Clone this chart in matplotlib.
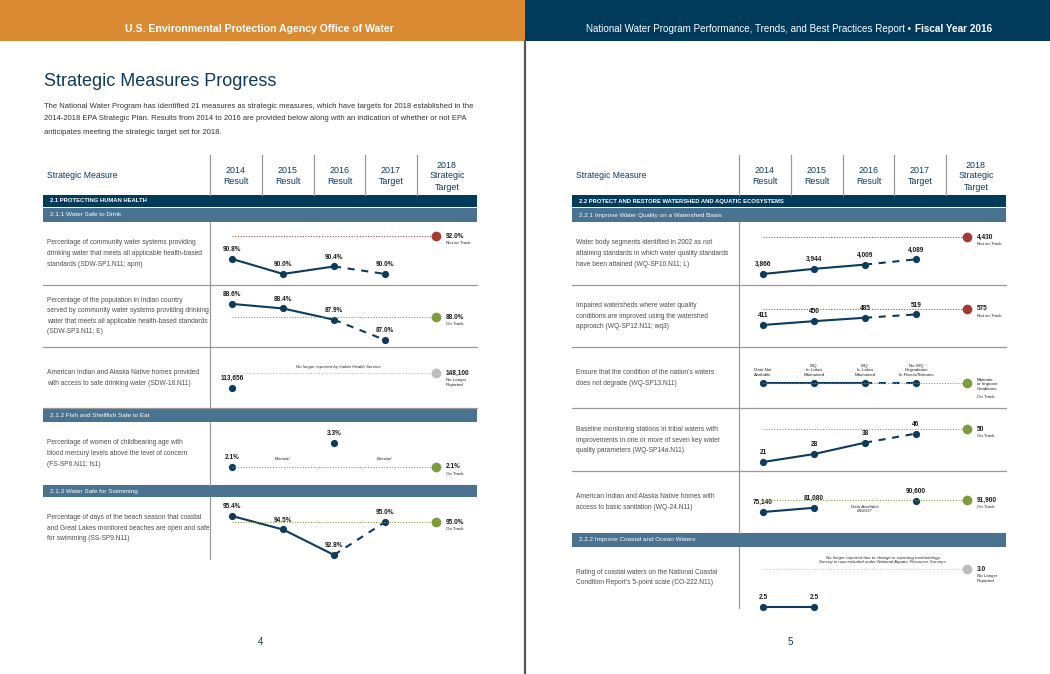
import matplotlib
matplotlib.use("Agg")
import matplotlib.pyplot as plt
from matplotlib.patches import Rectangle

W, H = 1050, 674

ORANGE = "#d98a33"
NAVY = "#003b5c"
STEEL = "#4a7291"
DOT = "#0c3b5d"
RED = "#a33b34"
GREEN = "#7e9b3f"
GREY = "#bdbdbd"
RULE = "#9a9a9a"
TEXT = "#4d4d4d"

COLUMN_HEADS = ["2014\nResult", "2015\nResult", "2016\nResult", "2017\nTarget", "2018\nStrategic\nTarget"]

LEFT_HEADER = "U.S. Environmental Protection Agency Office of Water"
RIGHT_HEADER = "National Water Program Performance, Trends, and Best Practices Report \u2022"
RIGHT_HEADER_BOLD = "Fiscal Year 2016"
TITLE = "Strategic Measures Progress"
INTRO = ("The National Water Program has identified 21 measures as strategic measures, which have targets for 2018 established in the\n"
         "2014-2018 EPA Strategic Plan. Results from 2014 to 2016 are provided below along with an indication of whether or not EPA\n"
         "anticipates meeting the strategic target set for 2018.")

# ---- left page: 2.1 protecting human health ----
SDW_SP1_DESC = ("Percentage of community water systems providing\n"
                "drinking water that meets all applicable health-based\n"
                "standards (SDW-SP1.N11; apm)")
SDW_SP1 = [90.8, 90.0, 90.4, 90.0]
SDW_SP1_TARGET = 92.0
SDW_SP1_STATUS = "Not on Track"

SDW_SP3_DESC = ("Percentage of the population in Indian country\n"
                "served by community water systems providing drinking\n"
                "water that meets all applicable health-based standards\n"
                "(SDW-SP3.N11; E)")
SDW_SP3 = [88.6, 88.4, 87.9, 87.0]
SDW_SP3_TARGET = 88.0
SDW_SP3_STATUS = "On Track"

SDW_18_DESC = ("American Indian and Alaska Native homes provided\n"
               "with access to safe drinking water (SDW-18.N11)")
SDW_18 = [113656, None, None, None]
SDW_18_TARGET = 148100
SDW_18_STATUS = "No Longer\nReported"

FS_SP6_DESC = ("Percentage of women of childbearing age with\n"
               "blood mercury levels above the level of concern\n"
               "(FS-SP6.N11; fs1)")
FS_SP6 = [2.1, None, 3.3, None]
FS_SP6_TARGET = 2.1
FS_SP6_STATUS = "On Track"

SS_SP9_DESC = ("Percentage of days of the beach season that coastal\n"
               "and Great Lakes monitored beaches are open and safe\n"
               "for swimming (SS-SP9.N11)")
SS_SP9 = [95.4, 94.5, 92.8, 95.0]
SS_SP9_TARGET = 95.0
SS_SP9_STATUS = "On Track"

# ---- right page: 2.2 watersheds and aquatic ecosystems ----
WQ_SP10_DESC = ("Water body segments identified in 2002 as not\n"
                "attaining standards in which water quality standards\n"
                "have been attained (WQ-SP10.N11; L)")
WQ_SP10 = [3866, 3944, 4009, 4089]
WQ_SP10_TARGET = 4430
WQ_SP10_STATUS = "Not on Track"

WQ_SP12_DESC = ("Impaired watersheds where water quality\n"
                "conditions are improved using the watershed\n"
                "approach (WQ-SP12.N11; wq3)")
WQ_SP12 = [411, 450, 485, 519]
WQ_SP12_TARGET = 575
WQ_SP12_STATUS = "Not on Track"

WQ_SP13_DESC = ("Ensure that the condition of the nation\u2019s waters\n"
                "does not degrade (WQ-SP13.N11)")
WQ_SP13 = [0, 0, 0, 0]  # qualitative measure, all on one level
WQ_SP13_LABELS = ["Data Not\nAvailable", "WQ\nIn Lakes\nMaintained", "WQ\nIn Lakes\nMaintained",
                  "No WQ\nDegradation\nIn Rivers/Streams"]
WQ_SP13_TARGET = 0
WQ_SP13_TARGET_LABEL = "Maintain\nor Improve\nConditions"
WQ_SP13_STATUS = "On Track"

WQ_SP14A_DESC = ("Baseline monitoring stations in tribal waters with\n"
                 "improvements in one or more of seven key water\n"
                 "quality parameters (WQ-SP14a.N11)")
WQ_SP14A = [21, 28, 38, 46]
WQ_SP14A_TARGET = 50
WQ_SP14A_STATUS = "On Track"

WQ_24_DESC = ("American Indian and Alaska Native homes with\n"
              "access to basic sanitation (WQ-24.N11)")
WQ_24 = [75140, 81080, None, 90600]
WQ_24_TARGET = 91900
WQ_24_STATUS = "On Track"

CO_222_DESC = ("Rating of coastal waters on the National Coastal\n"
               "Condition Report\u2019s 5-point scale (CO-222.N11)")
CO_222 = [2.5, 2.5, None, None]
CO_222_TARGET = 3.0
CO_222_STATUS = "No Longer\nReported"

STATUS_COLORS = {"Not on Track": RED, "On Track": GREEN, "No Longer\nReported": GREY}


def pct(v):
    return f"{v:.1f}%"


def count(v):
    return f"{v:,.0f}"


def rating(v):
    return f"{v:.1f}"


def stacked(page, x, yc, text, spacing, **kw):
    # one text per line so the line pitch is exact
    parts = text.split("\n")
    y0 = yc - spacing * (len(parts) - 1) / 2
    for k, part in enumerate(parts):
        page.text(x, y0 + k * spacing, part, va="center", **kw)


def draw_row(fig, page, row):
    top, bottom, pt0 = row["top"], row["bottom"], row["pt0"]
    stacked(page, row["text_x"], (top + bottom) / 2, row["desc"], 10.6,
            fontsize=4.75, color=TEXT, ha="left")

    ax = fig.add_axes([(pt0 - 22) / W, 1 - bottom / H, 267 / W, (bottom - top) / H])
    ax.set_xlim(-22 / 51, 245 / 51)
    ax.set_ylim(*row["ylim"])
    ax.axis("off")

    vals = row["values"]
    for i in range(3):
        if vals[i] is not None and vals[i + 1] is not None:
            ls = "-" if i < 2 else (0, (3.4, 3.2))
            ax.plot([i, i + 1], [vals[i], vals[i + 1]], color=DOT, lw=1.5, ls=ls,
                    solid_capstyle="butt", dash_capstyle="butt", clip_on=False, zorder=2)
    xs = [i for i, v in enumerate(vals) if v is not None]
    ax.plot(xs, [vals[i] for i in xs], "o", ms=5.2, color=DOT, mec="none", clip_on=False, zorder=3)

    color = STATUS_COLORS[row["status"]]
    ax.plot([0, 4], [row["target"]] * 2, ls=(0, (1, 1.6)), lw=0.75, color=color, zorder=4)
    ax.plot([4], [row["target"]], "o", ms=7, color=color, mec="none", zorder=5, clip_on=False)

    labels = row.get("labels") or [row["fmt"](v) if v is not None else "" for v in vals]
    for i in xs:
        if row.get("labels"):
            ax.annotate(labels[i], (i, vals[i]), xytext=(0, 4.5), textcoords="offset points",
                        ha="center", va="bottom", fontsize=3.2, color="#222222", linespacing=1.2)
        else:
            ax.annotate(labels[i], (i, vals[i]), xytext=(0, 4.2), textcoords="offset points",
                        ha="center", va="bottom", fontsize=4.7, fontweight="bold", color="#1a1a1a")

    tlabel = row.get("target_label") or row["fmt"](row["target"])
    small = "target_label" in row
    ax.annotate(tlabel, (4, row["target"]), xytext=(7, -1 if small else 0), textcoords="offset points",
                ha="left", va="center", fontsize=3.2 if small else 4.7,
                fontweight="normal" if small else "bold", color="#1a1a1a", linespacing=1.25)
    ax.annotate(row["status"], (4, row["target"]), xytext=(7, -9 if small else -3.6),
                textcoords="offset points", ha="left", va="top", fontsize=3.2, color="#222222",
                linespacing=1.2)

    for xi, dy, note in row.get("notes", []):
        ax.annotate(note, (xi, row["target"]), xytext=(0, dy), textcoords="offset points",
                    ha="center", va="center", fontsize=3.2, style="italic", color="#222222",
                    linespacing=1.25)


def main() -> None:
    plt.rcParams["font.family"] = ["Liberation Sans", "DejaVu Sans"]
    fig = plt.figure(figsize=(W / 100, H / 100), dpi=100)
    page = fig.add_axes([0, 0, 1, 1])
    page.set_xlim(0, W)
    page.set_ylim(H, 0)
    page.axis("off")

    # page headers
    page.add_patch(Rectangle((0, 0), 525, 41, color=ORANGE, lw=0))
    page.add_patch(Rectangle((525, 0), 525, 41, color=NAVY, lw=0))
    page.text(259, 29, LEFT_HEADER, color="white", fontsize=7.6, fontweight="bold", ha="center", va="center")
    page.text(911, 29, RIGHT_HEADER, color="white", fontsize=7.1, ha="right", va="center")
    page.text(915, 29, RIGHT_HEADER_BOLD, color="white", fontsize=7.2, fontweight="bold", ha="left", va="center")
    page.plot([525, 525], [41, H], color="#555555", lw=1.6)

    page.text(44, 81, TITLE, color="#0e3a5c", fontsize=13, ha="left", va="center")
    stacked(page, 44, 119, INTRO, 13, color="#333333", fontsize=5.5, ha="left")

    # table heads and section bars for both pages
    for x0, x1, text_x, seps, section, sub in [
        (43, 477, 47, [210, 262, 314, 365, 417], "2.1 PROTECTING HUMAN HEALTH", "2.1.1 Water Safe to Drink"),
        (572, 1006, 576, [739, 791, 843, 894, 946], "2.2 PROTECT AND RESTORE WATERSHED AND AQUATIC ECOSYSTEMS",
         "2.2.1 Improve Water Quality on a Watershed Basis"),
    ]:
        page.text(text_x, 176, "Strategic Measure", color="#0e3a5c", fontsize=6.2, ha="left", va="center")
        edges = seps + [x1]
        for k, head in enumerate(COLUMN_HEADS):
            page.plot([seps[k], seps[k]], [155, 195], color=RULE, lw=0.9)
            stacked(page, (edges[k] + edges[k + 1]) / 2, 176, head, 11,
                    color="#0e3a5c", fontsize=6.4, ha="center")
        page.add_patch(Rectangle((x0, 195), x1 - x0, 11.5, color=NAVY, lw=0))
        page.text(x0 + 7, 201, section, color="white", fontsize=4.25, fontweight="bold", ha="left", va="center")
        page.add_patch(Rectangle((x0, 208), x1 - x0, 14, color=STEEL, lw=0))
        page.text(x0 + 7, 215, sub, color="white", fontsize=4.6, ha="left", va="center")

    for y0, y1, title in [(409, 422, "2.1.2 Fish and Shellfish Safe to Eat"),
                          (485, 497, "2.1.3 Water Safe for Swimming")]:
        page.add_patch(Rectangle((43, y0), 434, y1 - y0, color=STEEL, lw=0))
        page.text(50, (y0 + y1) / 2, title, color="white", fontsize=4.6, ha="left", va="center")
    page.add_patch(Rectangle((572, 533), 434, 14, color=STEEL, lw=0))
    page.text(579, 540, "2.2.2 Improve Coastal and Ocean Waters", color="white", fontsize=4.6,
              ha="left", va="center")

    for y in [285, 347, 408]:
        page.plot([43, 477], [y, y], color=RULE, lw=0.9)
    for y in [285, 347, 408, 471]:
        page.plot([572, 1006], [y, y], color=RULE, lw=0.9)
    for y0, y1 in [(222, 408), (422, 485), (497, 559)]:
        page.plot([210, 210], [y0, y1], color=RULE, lw=0.9)
    for y0, y1 in [(222, 533), (547, 608)]:
        page.plot([739, 739], [y0, y1], color=RULE, lw=0.9)

    left = dict(pt0=232, text_x=47)
    right = dict(pt0=763, text_x=576)
    rows = [
        dict(left, top=222, bottom=285, desc=SDW_SP1_DESC, values=SDW_SP1, target=SDW_SP1_TARGET,
             status=SDW_SP1_STATUS, fmt=pct, ylim=(89.41, 92.77)),
        dict(left, top=285, bottom=347, desc=SDW_SP3_DESC, values=SDW_SP3, target=SDW_SP3_TARGET,
             status=SDW_SP3_STATUS, fmt=pct, ylim=(86.69, 89.44)),
        dict(left, top=347, bottom=409, desc=SDW_18_DESC, values=SDW_18, target=SDW_18_TARGET,
             status=SDW_18_STATUS, fmt=count, ylim=(65440, 207800),
             notes=[(2.08, 4.5, "No longer reported by Indian Health Service")]),
        dict(left, top=422, bottom=485, desc=FS_SP6_DESC, values=FS_SP6, target=FS_SP6_TARGET,
             status=FS_SP6_STATUS, fmt=pct, ylim=(1.2, 4.35),
             notes=[(1, 6, "Biennial"), (3, 6, "Biennial")]),
        dict(left, top=497, bottom=559, desc=SS_SP9_DESC, values=SS_SP9, target=SS_SP9_TARGET,
             status=SS_SP9_STATUS, fmt=pct, ylim=(92.53, 96.67)),
        dict(right, top=222, bottom=285, desc=WQ_SP10_DESC, values=WQ_SP10, target=WQ_SP10_TARGET,
             status=WQ_SP10_STATUS, fmt=count, ylim=(3698, 4658)),
        dict(right, top=285, bottom=347, desc=WQ_SP12_DESC, values=WQ_SP12, target=WQ_SP12_TARGET,
             status=WQ_SP12_STATUS, fmt=count, ylim=(185, 821)),
        dict(right, top=347, bottom=409, desc=WQ_SP13_DESC, values=WQ_SP13, target=WQ_SP13_TARGET,
             status=WQ_SP13_STATUS, fmt=count, ylim=(-26, 36), labels=WQ_SP13_LABELS,
             target_label=WQ_SP13_TARGET_LABEL),
        dict(right, top=409, bottom=471, desc=WQ_SP14A_DESC, values=WQ_SP14A, target=WQ_SP14A_TARGET,
             status=WQ_SP14A_STATUS, fmt=count, ylim=(13.1, 67.6)),
        dict(right, top=471, bottom=533, desc=WQ_24_DESC, values=WQ_24, target=WQ_24_TARGET,
             status=WQ_24_STATUS, fmt=count, ylim=(45640, 132750),
             notes=[(2, -6.5, "Data Available\n08/2017")]),
        dict(right, top=547, bottom=608, desc=CO_222_DESC, values=CO_222, target=CO_222_TARGET,
             status=CO_222_STATUS, fmt=rating, ylim=(2.487, 3.29),
             notes=[(2.35, 6.5, "No longer reported due to change in reporting methodology.\n"
                                "Survey is now included under National Aquatic Resource Surveys.")]),
    ]
    for row in rows:
        draw_row(fig, page, row)

    page.text(260, 642, "4", color="#0e3a5c", fontsize=7, ha="center", va="center")
    page.text(790, 642, "5", color="#0e3a5c", fontsize=7, ha="center", va="center")

    fig.savefig("out.png", dpi=100)
    plt.close(fig)


if __name__ == "__main__":
    main()
